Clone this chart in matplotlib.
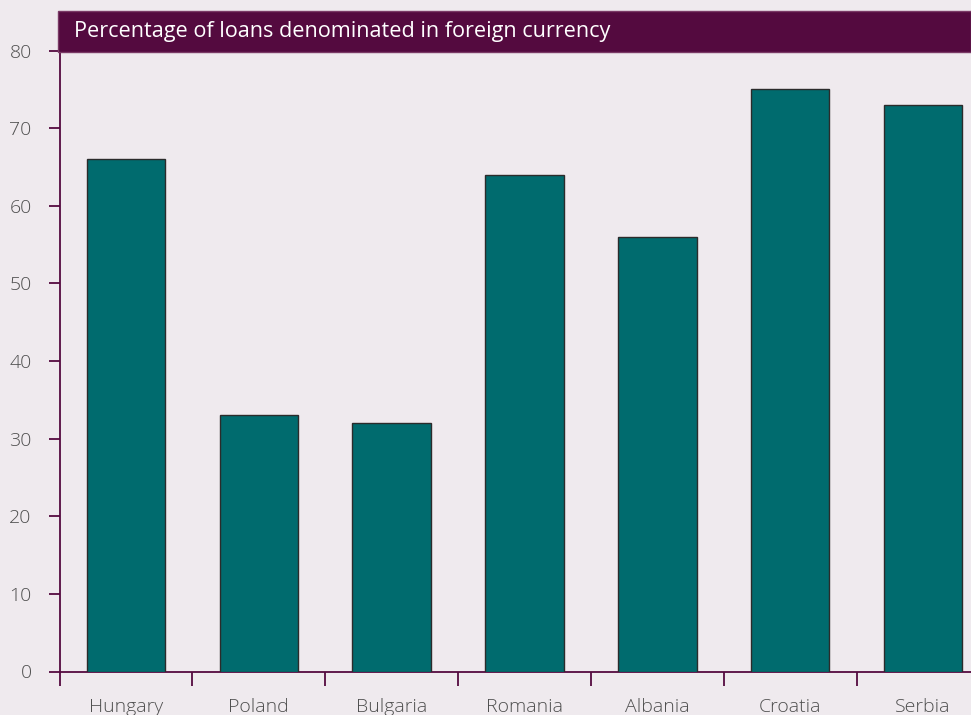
import matplotlib.pyplot as plt
from matplotlib.patches import Rectangle
import numpy as np

# Percentage of loans denominated in foreign currency
countries = ['Hungary', 'Poland', 'Bulgaria', 'Romania', 'Albania', 'Croatia', 'Serbia']
values = [66, 33, 32, 64, 56, 75, 73]
yticks = [0, 10, 20, 30, 40, 50, 60, 70, 80]

bg = '#efeaee'
purple = '#540a3f'
teal = '#006b6e'
grey = '#4f4f4f'

plt.rcParams['font.family'] = ['Open Sans', 'DejaVu Sans']

W, H = 971, 715
fig = plt.figure(figsize=(W / 100, H / 100), dpi=100, facecolor=bg)

x0, x1 = 59.5, 989.5
y0, y1 = 671.5, 50.5
ax = fig.add_axes([x0 / W, 1 - y0 / H, (x1 - x0) / W, (y0 - y1) / H])
ax.set_facecolor(bg)

x = np.arange(len(countries))
ax.bar(x, values, width=0.59, color=teal, edgecolor='#2b2b2b', linewidth=1.0, zorder=3)

ax.set_xlim(-0.5, len(countries) - 0.5)
ax.set_ylim(0, 80)

for s in ['top', 'right']:
    ax.spines[s].set_visible(False)
for s in ['left', 'bottom']:
    ax.spines[s].set_color(purple)
    ax.spines[s].set_linewidth(1.3)

ax.set_yticks(yticks)
ax.set_yticklabels([str(v) for v in yticks], fontweight='light')
ax.tick_params(axis='y', direction='out', length=8, width=1.3, color=purple,
               labelcolor=grey, labelsize=14, pad=12)

# labels at centres, tick marks at the boundaries
ax.set_xticks(x)
ax.set_xticklabels(countries, fontweight='light')
ax.tick_params(axis='x', which='major', length=0, labelcolor=grey, labelsize=14, pad=19)
ax.set_xticks(np.arange(-0.5, len(countries) + 0.5), minor=True)
ax.tick_params(axis='x', which='minor', direction='out', length=10, width=1.3, color=purple)

# title band
fig.patches.append(Rectangle((58 / W, 1 - 52 / H), 1 - 58 / W, 41 / H,
                             transform=fig.transFigure, facecolor=purple,
                             edgecolor='#7a3a66', linewidth=1, zorder=5))
fig.text(74 / W, 1 - 32 / H, 'Percentage of loans denominated in foreign currency',
         color='white', fontsize=15.6, va='center', ha='left', zorder=6)

fig.savefig('out.png', dpi=100, facecolor=bg)
